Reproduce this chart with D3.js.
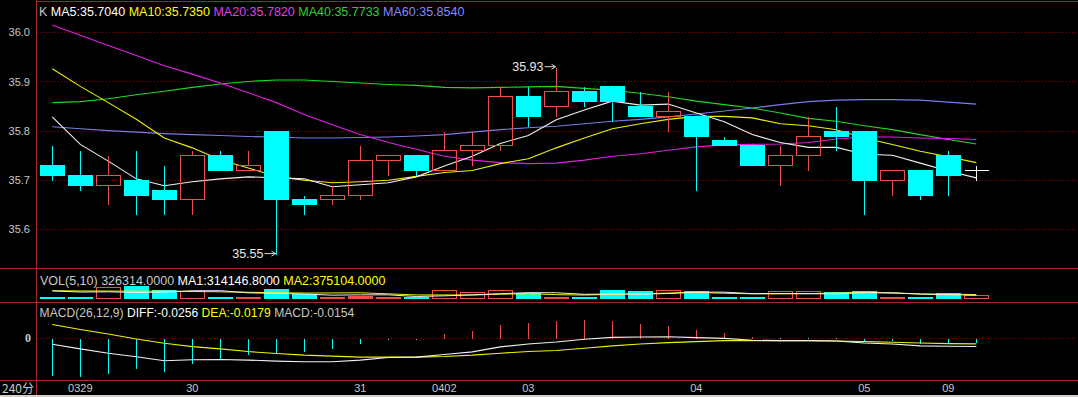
<!DOCTYPE html>
<html>
<head>
<meta charset="utf-8">
<script src="https://cdn.jsdelivr.net/npm/d3@7"></script>
<style>
    html, body { margin: 0; padding: 0; background: #000; overflow: hidden; }
    svg { display: block; font-family: "Liberation Sans", Arial, sans-serif; }
</style>
</head>
<body>
<div id="chart"></div>
<script>
// ---- data (240-minute bars) ----
const opens  = [35.73, 35.71, 35.69, 35.70, 35.68, 35.66, 35.75, 35.72, 35.80, 35.66, 35.66, 35.67, 35.74, 35.75, 35.72, 35.76, 35.77,
                35.87, 35.85, 35.88, 35.89, 35.85, 35.83, 35.83, 35.78, 35.77, 35.73, 35.75, 35.80, 35.80, 35.70, 35.72, 35.75, 35.72];
const closes = [35.71, 35.69, 35.71, 35.67, 35.66, 35.75, 35.72, 35.73, 35.66, 35.65, 35.67, 35.74, 35.75, 35.72, 35.76, 35.77, 35.87,
                35.83, 35.88, 35.86, 35.86, 35.83, 35.84, 35.79, 35.77, 35.73, 35.75, 35.79, 35.79, 35.70, 35.72, 35.67, 35.71, 35.72];
const highs  = [35.77, 35.76, 35.75, 35.76, 35.73, 35.76, 35.76, 35.76, 35.80, 35.67, 35.69, 35.77, 35.75, 35.75, 35.80, 35.80, 35.89,
                35.89, 35.93, 35.89, 35.89, 35.88, 35.88, 35.83, 35.79, 35.77, 35.77, 35.83, 35.85, 35.80, 35.72, 35.72, 35.76, 35.73];
const lows   = [35.70, 35.68, 35.65, 35.63, 35.63, 35.63, 35.72, 35.72, 35.55, 35.63, 35.65, 35.66, 35.71, 35.71, 35.72, 35.73, 35.76,
                35.81, 35.83, 35.85, 35.82, 35.83, 35.80, 35.68, 35.77, 35.73, 35.69, 35.72, 35.76, 35.63, 35.67, 35.66, 35.67, 35.70];

const ma5  = [35.828, 35.772, 35.738, 35.702, 35.688, 35.696, 35.702, 35.706, 35.704, 35.702, 35.686, 35.690, 35.694, 35.706, 35.728, 35.748, 35.774,
              35.790, 35.822, 35.842, 35.860, 35.852, 35.854, 35.836, 35.818, 35.792, 35.776, 35.766, 35.766, 35.752, 35.750, 35.734, 35.718, 35.704];
const ma10 = [35.926, 35.890, 35.857, 35.823, 35.785, 35.765, 35.741, 35.724, 35.707, 35.699, 35.694, 35.696, 35.699, 35.707, 35.715, 35.719, 35.733,
              35.743, 35.765, 35.785, 35.804, 35.814, 35.823, 35.829, 35.829, 35.826, 35.814, 35.810, 35.802, 35.785, 35.772, 35.758, 35.747, 35.735];
const ma20 = [36.015, 35.994, 35.973, 35.953, 35.932, 35.915, 35.897, 35.877, 35.857, 35.833, 35.812, 35.792, 35.776, 35.762, 35.748, 35.740, 35.735,
              35.733, 35.734, 35.740, 35.748, 35.753, 35.760, 35.767, 35.771, 35.772, 35.773, 35.776, 35.783, 35.787, 35.787, 35.785, 35.784, 35.782];
const ma40 = [35.857, 35.859, 35.865, 35.873, 35.880, 35.888, 35.895, 35.900, 35.903, 35.903, 35.900, 35.897, 35.894, 35.892, 35.888, 35.887, 35.888,
              35.889, 35.890, 35.886, 35.882, 35.876, 35.869, 35.860, 35.853, 35.846, 35.836, 35.825, 35.819, 35.810, 35.802, 35.792, 35.782, 35.773];
const ma60 = [35.808, 35.804, 35.800, 35.797, 35.794, 35.792, 35.790, 35.788, 35.787, 35.785, 35.785, 35.786, 35.787, 35.789, 35.792, 35.797, 35.802,
              35.806, 35.809, 35.814, 35.819, 35.823, 35.828, 35.834, 35.840, 35.846, 35.853, 35.859, 35.862, 35.863, 35.863, 35.862, 35.858, 35.854];

const volumes = [40000, 45000, 1020000, 1110000, 750000, 660000, 60000, 60000, 870000, 450000, 150000, 210000, 65000, 110000, 750000, 600000, 750000,
                 510000, 65000, 60000, 750000, 660000, 810000, 660000, 70000, 70000, 720000, 720000, 570000, 660000, 40000, 40000, 510000, 326314];
const volMa1 = [700000, 600000, 620000, 560000, 593000, 717000, 720000, 528000, 480000, 420000, 318000, 348000, 349000, 197000, 257000, 347000, 455000,
                544000, 535000, 397000, 427000, 409000, 469000, 588000, 590000, 454000, 466000, 448000, 430000, 548000, 542000, 406000, 364000, 314147];
const volMa2 = [720000, 700000, 690000, 680000, 670000, 650000, 620000, 580000, 540000, 506500, 517500, 534000, 438500, 338500, 338500, 332500, 401500,
                446500, 366000, 327000, 387000, 432000, 506500, 561500, 493500, 440500, 437500, 458500, 509000, 569000, 498000, 436000, 406000, 375104];

const diff = [-0.019, -0.033, -0.046, -0.057, -0.069, -0.066, -0.065, -0.067, -0.070, -0.072, -0.072, -0.067, -0.059, -0.058, -0.050, -0.042, -0.027,
              -0.018, -0.012, -0.004, 0.002, 0.003, 0.004, 0.001, -0.001, -0.007, -0.008, -0.008, -0.009, -0.015, -0.018, -0.024, -0.025, -0.0256];
const dea  = [0.041, 0.026, 0.012, -0.003, -0.016, -0.026, -0.033, -0.041, -0.047, -0.052, -0.055, -0.058, -0.058, -0.058, -0.056, -0.052, -0.046,
              -0.041, -0.038, -0.031, -0.024, -0.018, -0.014, -0.011, -0.008, -0.008, -0.008, -0.008, -0.009, -0.011, -0.013, -0.015, -0.017, -0.0179];
const macd = [-0.114, -0.117, -0.109, -0.094, -0.102, -0.079, -0.064, -0.052, -0.046, -0.041, -0.033, -0.018, -0.001, -0.001, 0.012, 0.021, 0.039,
              0.045, 0.052, 0.055, 0.052, 0.042, 0.036, 0.024, 0.015, 0.002, 0.001, 0.001, 0.001, -0.009, -0.010, -0.019, -0.016, -0.0154];

const priceTicks = [36.0, 35.9, 35.8, 35.7, 35.6];
const dateTickIdx = [1, 5, 11, 14, 17, 23, 29, 32];
const dateTickText = ["0329", "30", "31", "0402", "03", "04", "05", "09"];

const priceLegend = [["K", "#c8c8c8"], ["MA5:35.7040", "#ffffff"], ["MA10:35.7350", "#ffff00"],
                     ["MA20:35.7820", "#e040e0"], ["MA40:35.7733", "#30d030"], ["MA60:35.8540", "#8888ff"]];
const volLegend = [["VOL(5,10) 326314.0000", "#c8c8c8"], ["MA1:314146.8000", "#ffffff"], ["MA2:375104.0000", "#ffff00"]];
const macdLegend = [["MACD(26,12,9)", "#c8c8c8"], ["DIFF:-0.0256", "#ffffff"], ["DEA:-0.0179", "#ffff00"], ["MACD:-0.0154", "#c8c8c8"]];

// ---- layout ----
const W = 1078, H = 397;
const left = 36;
const UP = "#ec5048", DOWN = "#00ffff", BORDER = "#a02828", GRID = "#9a0000", LABEL = "#c8c8c8";

const svg = d3.select("#chart").append("svg")
    .attr("width", W)
    .attr("height", H);

svg.append("rect").attr("width", W).attr("height", H).attr("fill", "#000");

let n = closes.length;
let idx = d3.range(n);

let x = d3.scaleLinear().domain([0, n - 1]).range([52.3, 976.3]);
let cx = i => Math.round(x(i)) + 0.5;
let half = 12;

let yP = d3.scaleLinear().domain([35.6, 36.0]).range([229, 32.3]);
let yV = d3.scaleLinear().domain([0, 1000000]).range([298.7, 287.6]);
let yM = d3.scaleLinear().domain([-0.1, 0.1]).range([371, 305]);
let snap = v => Math.round(v) + 0.5;

// grid lines (dotted)
svg.append("g").selectAll("line").data(priceTicks).enter().append("line")
    .attr("x1", left + 1).attr("x2", W)
    .attr("y1", d => snap(yP(d))).attr("y2", d => snap(yP(d)))
    .attr("stroke", GRID).attr("stroke-dasharray", "1,2");

svg.append("line")
    .attr("x1", left + 1).attr("x2", W)
    .attr("y1", snap(yM(0))).attr("y2", snap(yM(0)))
    .attr("stroke", GRID).attr("stroke-dasharray", "1,2");

// price axis labels
let yAxis = d3.axisLeft(yP).tickValues(priceTicks).tickFormat(d3.format(".1f")).tickSize(0).tickPadding(4);
let gy = svg.append("g").attr("transform", `translate(${left - 2},0)`).call(yAxis);
gy.select(".domain").remove();
gy.selectAll("text").attr("fill", LABEL).style("font-size", "11px").style("font-family", "'Liberation Sans', Arial, sans-serif");

// MACD zero label
svg.append("text").attr("x", 31).attr("y", yM(0) + 4).attr("text-anchor", "end")
    .attr("fill", LABEL).style("font-size", "12px").style("font-weight", "bold")
    .style("font-family", "'Liberation Serif', serif").text("0");

// ---- MA lines in price panel ----
let maSeries = [[ma60, "#7b7bea"], [ma40, "#22d822"], [ma20, "#e020e0"], [ma10, "#f0f000"], [ma5, "#f0f0f0"]];
maSeries.forEach(([vals, col]) => {
    svg.append("path")
        .datum(vals)
        .attr("fill", "none")
        .attr("stroke", col)
        .attr("stroke-width", 1.1)
        .attr("d", d3.line().x((d, i) => x(i)).y(d => yP(d)));
});

// ---- candles ----
let candles = svg.append("g").attr("shape-rendering", "crispEdges");
idx.forEach(i => {
    let o = opens[i], c = closes[i];
    let xc = cx(i);
    if (c > o) {
        let top = snap(yP(c)), bot = snap(yP(o));
        candles.append("line").attr("x1", xc).attr("x2", xc).attr("y1", snap(yP(highs[i]))).attr("y2", top).attr("stroke", UP);
        candles.append("line").attr("x1", xc).attr("x2", xc).attr("y1", bot).attr("y2", snap(yP(lows[i]))).attr("stroke", UP);
        candles.append("rect").attr("x", xc - half).attr("y", top).attr("width", half * 2).attr("height", Math.max(1, bot - top))
            .attr("fill", "none").attr("stroke", UP);
    } else if (c < o) {
        candles.append("line").attr("x1", xc).attr("x2", xc).attr("y1", snap(yP(highs[i]))).attr("y2", snap(yP(lows[i]))).attr("stroke", DOWN);
        let top = Math.round(yP(o)), bot = Math.round(yP(c));
        candles.append("rect").attr("x", xc - half - 0.5).attr("y", top).attr("width", half * 2 + 1).attr("height", Math.max(1, bot - top + 1))
            .attr("fill", DOWN);
    } else {
        candles.append("line").attr("x1", xc).attr("x2", xc).attr("y1", snap(yP(highs[i]))).attr("y2", snap(yP(lows[i]))).attr("stroke", "#fff");
        candles.append("line").attr("x1", xc - half).attr("x2", xc + half).attr("y1", snap(yP(o))).attr("y2", snap(yP(o))).attr("stroke", "#fff");
    }
});

// high / low markers
function marker(i, price) {
    let xc = cx(i), yy = yP(price);
    svg.append("line").attr("x1", xc - 12).attr("x2", xc - 1).attr("y1", yy).attr("y2", yy).attr("stroke", "#d8d8d8");
    svg.append("path").attr("d", `M${xc - 5},${yy - 2.5}L${xc - 1},${yy}L${xc - 5},${yy + 2.5}`)
        .attr("fill", "none").attr("stroke", "#d8d8d8");
    svg.append("text").attr("x", xc - 13).attr("y", yy + 4.5).attr("text-anchor", "end")
        .attr("fill", "#e8e8e8").style("font-size", "12.5px").text(price.toFixed(2));
}
let hiI = d3.maxIndex(highs), loI = d3.minIndex(lows);
marker(hiI, highs[hiI]);
marker(loI, lows[loI]);

// ---- volume panel ----
let vol = svg.append("g").attr("shape-rendering", "crispEdges");
let vBase = 298.5;
idx.forEach(i => {
    let up = closes[i] > opens[i] || (closes[i] === opens[i] && i > 0 && closes[i] >= closes[i - 1]);
    let xc = cx(i);
    let top = Math.min(vBase - 1, snap(yV(volumes[i])));
    if (up) {
        vol.append("rect").attr("x", xc - half).attr("y", top).attr("width", half * 2).attr("height", vBase - top)
            .attr("fill", vBase - top < 3 ? UP : "none").attr("stroke", UP);
    } else {
        vol.append("rect").attr("x", xc - half - 0.5).attr("y", top - 0.5).attr("width", half * 2 + 1).attr("height", vBase - top + 1)
            .attr("fill", DOWN);
    }
});
[[volMa2, "#f0f000"], [volMa1, "#f0f0f0"]].forEach(([vals, col]) => {
    svg.append("path").datum(vals).attr("fill", "none").attr("stroke", col).attr("stroke-width", 1)
        .attr("d", d3.line().x((d, i) => x(i)).y(d => yV(d)));
});

// ---- MACD panel ----
let mg = svg.append("g").attr("shape-rendering", "crispEdges");
idx.forEach(i => {
    let v = macd[i];
    let y0 = snap(yM(0)), y1 = yM(v);
    if (Math.abs(y1 - y0) < 1) y1 = y0 + (v >= 0 ? -1 : 1);
    mg.append("line").attr("x1", cx(i)).attr("x2", cx(i)).attr("y1", y0).attr("y2", y1)
        .attr("stroke", Math.abs(v) < 0.002 ? "#c0c0c0" : (v > 0 ? UP : DOWN));
});
[[dea, "#f0f000"], [diff, "#f0f0f0"]].forEach(([vals, col]) => {
    svg.append("path").datum(vals).attr("fill", "none").attr("stroke", col).attr("stroke-width", 1.1)
        .attr("d", d3.line().x((d, i) => x(i)).y(d => yM(d)));
});

// ---- borders ----
let borders = svg.append("g").attr("stroke", BORDER).attr("shape-rendering", "crispEdges");
borders.append("line").attr("x1", left + 0.5).attr("x2", left + 0.5).attr("y1", 0).attr("y2", 395);
borders.append("line").attr("x1", left).attr("x2", W).attr("y1", 1.5).attr("y2", 1.5);
[268.5, 302.5, 380.5].forEach(yy => {
    borders.append("line").attr("x1", 0).attr("x2", W).attr("y1", yy).attr("y2", yy);
});
svg.append("rect").attr("x", 0).attr("y", 395).attr("width", W).attr("height", 2).attr("fill", "#d4d0c8");

// ---- legends (one flowing line each) ----
function legend(items, x0, yBase, size) {
    let t = svg.append("text").attr("x", x0).attr("y", yBase).style("font-size", size + "px")
        .attr("xml:space", "preserve");
    items.forEach(([s, col], k) => {
        t.append("tspan").attr("fill", col).text((k > 0 ? " " : "") + s);
    });
}
legend(priceLegend, 39, 16, 12.5);
legend(volLegend, 40, 284.5, 12.5);
legend(macdLegend, 39.6, 317, 12.1);

// ---- bottom axis ----
svg.append("text").attr("x", 2).attr("y", 392.5).attr("fill", LABEL)
    .style("font-size", "12px").style("font-family", "'Noto Sans CJK SC', 'Liberation Sans', sans-serif").text("240分");

svg.append("g").selectAll("text").data(dateTickIdx).enter().append("text")
    .attr("x", d => x(d)).attr("y", 392.3).attr("text-anchor", "middle")
    .attr("fill", LABEL).style("font-size", "11px")
    .text((d, k) => dateTickText[k]);
</script>
</body>
</html>
